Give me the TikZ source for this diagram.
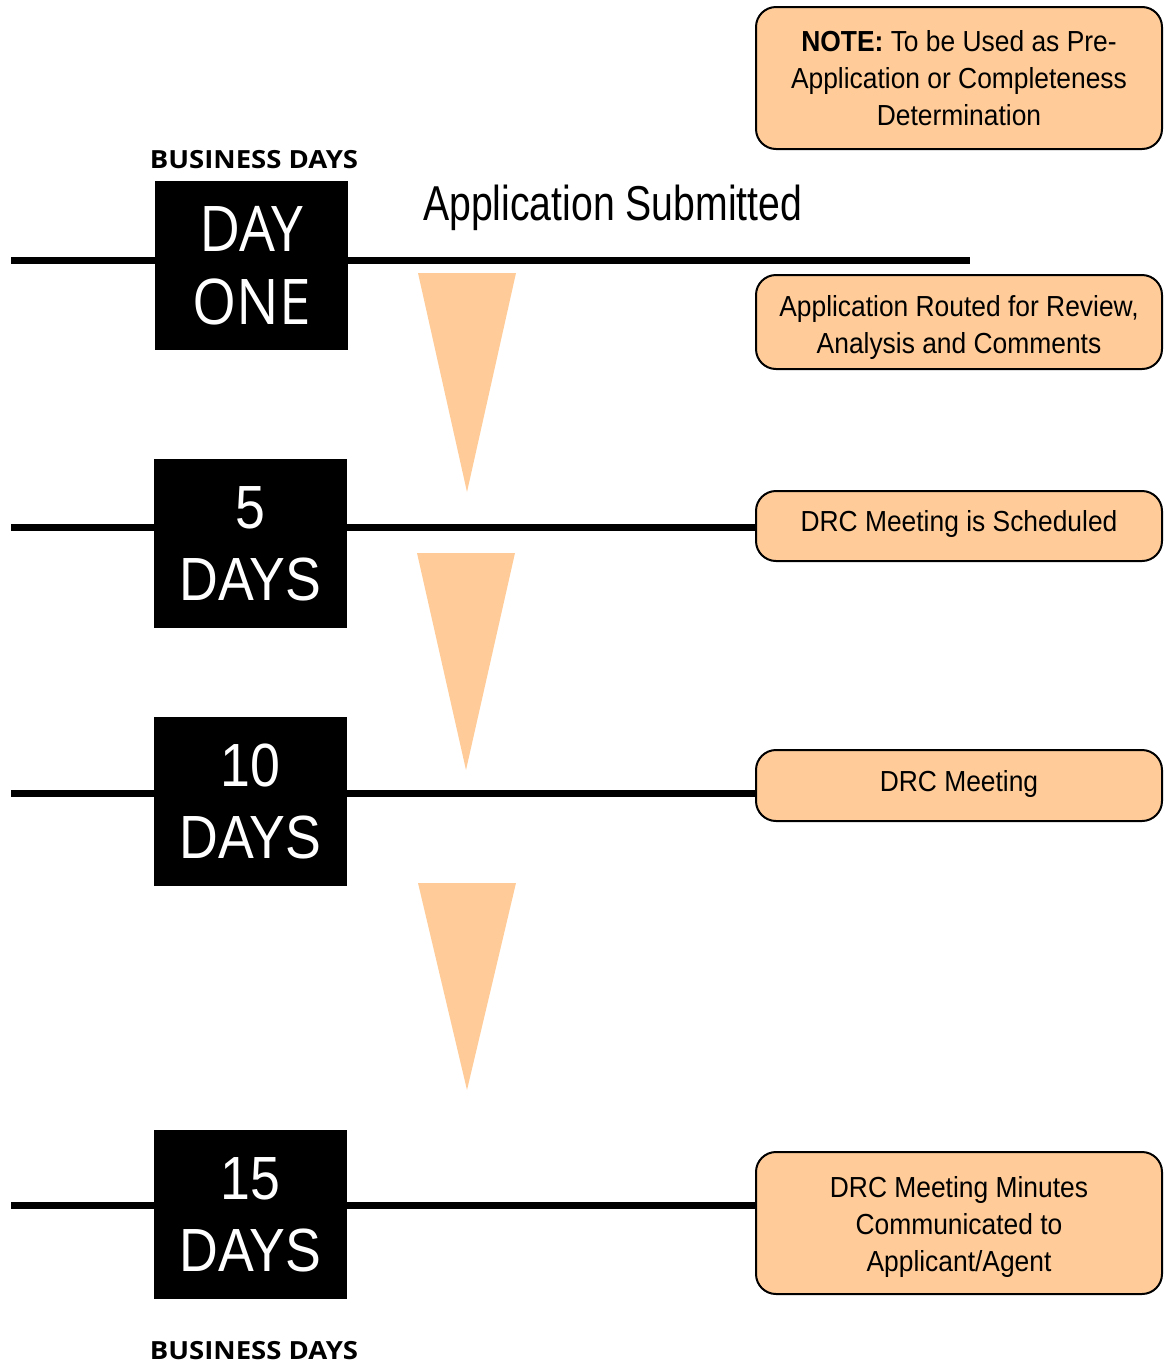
\documentclass[tikz,border=0pt]{standalone}
\usepackage{fontspec}
\setmainfont{Liberation Sans}
\newfontfamily\notefont[FakeStretch=0.91]{Liberation Sans}
\newfontfamily\headfont[FakeStretch=0.8]{Liberation Sans}
\newfontfamily\countfont[FakeStretch=0.88]{Liberation Sans}
\newfontfamily\onefont[FakeStretch=0.9]{Open Sans}
\newfontfamily\labelfont[FakeStretch=1.1]{Open Sans}
\definecolor{peach}{HTML}{FFCC99}
\begin{document}
\begin{tikzpicture}[x=1pt,y=-1pt,
  dayblock/.style={fill=black, text=white, minimum width=193pt, minimum height=169pt,
    inner sep=0pt, align=center},
  countblock/.style={dayblock, font=\countfont\fontsize{61}{72}\selectfont},
  stepnote/.style={fill=peach, draw=black, line width=2pt, rounded corners=20pt,
    minimum width=406pt, inner sep=0pt},
  notetext/.style={inner sep=0pt, align=center, font=\notefont\fontsize{29}{37}\selectfont},
  rule/.style={line width=7pt},
  wedge/.style={fill=peach},
  daylabel/.style={font=\labelfont\bfseries\fontsize{25}{28}\selectfont, anchor=base, inner sep=0pt}]
\useasboundingbox (0,0) rectangle (1165,1366);

% day markers
\node[dayblock, font=\onefont\fontsize{63}{73}\selectfont] (d1) at (251.5,265.5) {DAY\\ONE};
\node[countblock] (d2) at (250.5,543.5) {5\\DAYS};
\node[countblock] (d3) at (250.5,801.5) {10\\DAYS};
\node[countblock] (d4) at (250.5,1214.5) {15\\DAYS};

\node[daylabel] (bt) at (254,168) {BUSINESS DAYS};
\node[daylabel] (bb) at (254,1359) {BUSINESS DAYS};

% step descriptions
\node[stepnote, minimum height=142pt] (n0) at (959,78) {};
\node[stepnote, minimum height=94pt] (n1) at (959,322) {};
\node[stepnote, minimum height=70pt] (n2) at (959,526) {};
\node[stepnote, minimum height=71pt] (n3) at (959,785.5) {};
\node[stepnote, minimum height=142pt] (n4) at (959,1223) {};

\node[notetext] (t0) at ([yshift=-0.5pt]n0.center)
  {\textbf{NOTE:} To be Used as Pre-\\Application or Completeness\\Determination};
\node[notetext] (t1) at ([yshift=-5pt]n1.center)
  {Application Routed for Review,\\Analysis and Comments};
\node[notetext] (t2) at ([yshift=2pt]n2.center) {DRC Meeting is Scheduled};
\node[notetext] (t3) at ([yshift=2pt]n3.center) {DRC Meeting};
\node[notetext] (t4) at ([yshift=-3.5pt]n4.center)
  {DRC Meeting Minutes\\Communicated to\\Applicant/Agent};

\node[font=\headfont\fontsize{49}{55}\selectfont, anchor=base west, inner sep=0pt] (sub)
  at (423,220) {Application Submitted};

% timeline rules
\coordinate (s1) at (11,260);
\coordinate (e1) at (970,260);
\coordinate (s2) at (11,527);
\coordinate (s3) at (11,793);
\coordinate (s4) at (11,1205);
\draw[rule] (s1) -- (s1 -| d1.west);
\draw[rule] (s1 -| d1.east) -- (e1);
\draw[rule] (s2) -- (s2 -| d2.west);
\draw[rule] (s2 -| d2.east) -- (s2 -| n2.west);
\draw[rule] (s3) -- (s3 -| d3.west);
\draw[rule] (s3 -| d3.east) -- (s3 -| n3.west);
\draw[rule] (s4) -- (s4 -| d4.west);
\draw[rule] (s4 -| d4.east) -- (s4 -| n4.west);

% progress wedges
\fill[wedge] (418,273) -- (516,273) -- (467,492) -- cycle;
\fill[wedge] (417,553) -- (515,553) -- (466,770) -- cycle;
\fill[wedge] (418,883) -- (516,883) -- (467,1090) -- cycle;
\end{tikzpicture}
\end{document}
